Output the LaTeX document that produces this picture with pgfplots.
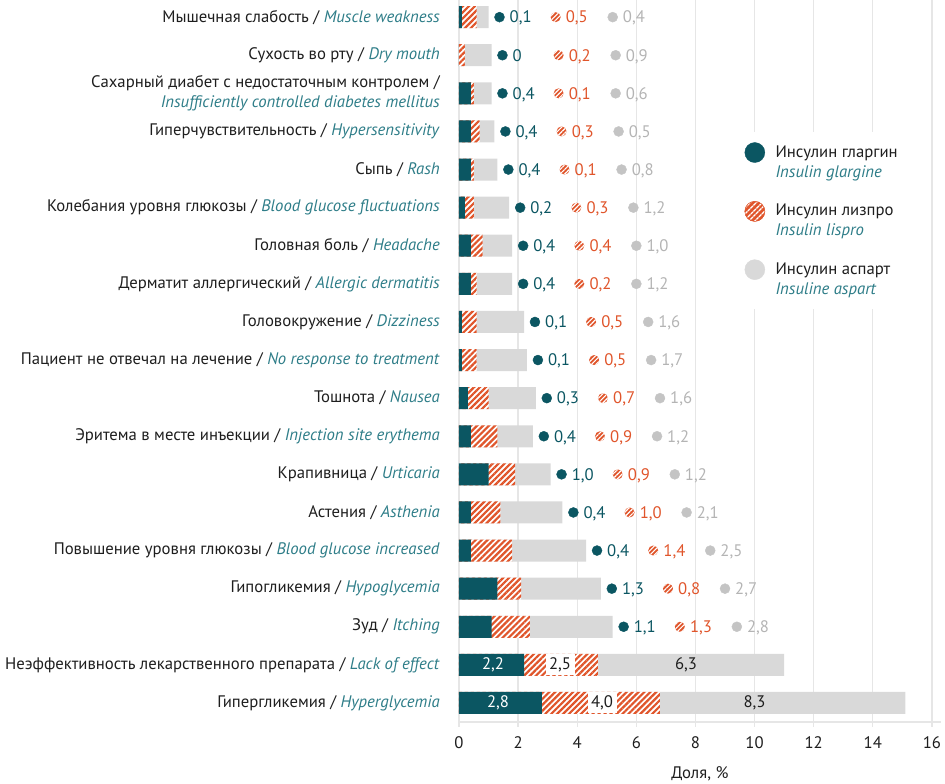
\documentclass[border=0pt]{standalone}
\usepackage{fontspec}
\setmainfont{PT Sans}
\usepackage{pgfplots}
\pgfplotsset{compat=1.18}
\usepackage{pgfplotstable}
\usetikzlibrary{patterns.meta}
\definecolor{cGl}{HTML}{0B5662}
\definecolor{cLi}{HTML}{E0552B}
\definecolor{cAs}{HTML}{D9D9D9}
\definecolor{cAsD}{HTML}{C4C4C4}
\definecolor{cAsT}{HTML}{B4B4B4}
\definecolor{cEn}{HTML}{2E7D88}
\definecolor{cGrid}{HTML}{E6E6E6}
\definecolor{cTxt}{HTML}{1E1E1E}
\newcommand{\en}[1]{\textcolor{cEn}{\textit{#1}}}
\pgfplotstableread{
idx a b c la lb lc
0 0.1 0.5 0.4 0,1 0,5 0,4
1 0 0.2 0.9 0 0,2 0,9
2 0.4 0.1 0.6 0,4 0,1 0,6
3 0.4 0.3 0.5 0,4 0,3 0,5
4 0.4 0.1 0.8 0,4 0,1 0,8
5 0.2 0.3 1.2 0,2 0,3 1,2
6 0.4 0.4 1.0 0,4 0,4 1,0
7 0.4 0.2 1.2 0,4 0,2 1,2
8 0.1 0.5 1.6 0,1 0,5 1,6
9 0.1 0.5 1.7 0,1 0,5 1,7
10 0.3 0.7 1.6 0,3 0,7 1,6
11 0.4 0.9 1.2 0,4 0,9 1,2
12 1.0 0.9 1.2 1,0 0,9 1,2
13 0.4 1.0 2.1 0,4 1,0 2,1
14 0.4 1.4 2.5 0,4 1,4 2,5
15 1.3 0.8 2.7 1,3 0,8 2,7
16 1.1 1.3 2.8 1,1 1,3 2,8
17 2.2 2.5 6.3 2,2 2,5 6,3
18 2.8 4.0 8.3 2,8 4,0 8,3
}\data
\pgfplotstableread{
y xa xb xc la lb lc
17 1.15 3.42 7.68 2,2 2,5 6,3
18 1.32 4.84 10.0 2,8 4,0 8,3
}\inside
\begin{document}
\fontsize{16.7}{20}\selectfont
\color{cTxt}%
\begin{tikzpicture}
\begin{axis}[
  at={(459pt,62pt)}, anchor=south west,
  scale only axis, width=481.8pt, height=722pt,
  xmin=0, xmax=16.3, ymin=-0.45, ymax=18.5, y dir=reverse,
  axis x line*=bottom, axis y line*=left,
  y axis line style={draw=none},
  x axis line style={draw=cGrid, line width=1.3pt},
  tick align=outside, major tick length=5pt,
  xtick style={draw=cGrid, line width=1.3pt},
  ytick style={draw=none},
  xmajorgrids, grid style={cGrid, line width=1.3pt},
  xtick={0,2,...,16},
  ytick={0,...,18},
  /pgf/number format/assume math mode=true,
  xticklabel style={text=cTxt, yshift=-4pt},
  yticklabel style={align=right, anchor=east, inner sep=0pt, xshift=-14pt, text=cTxt},
  xlabel={Доля, \%},
  xlabel style={text=cTxt, yshift=-6pt},
  yticklabels={
    Мышечная слабость / \en{Muscle weakness},
    Сухость во рту / \en{Dry mouth},
    {Сахарный диабет с недостаточным контролем /\\\en{Insufficiently controlled diabetes mellitus}},
    Гиперчувствительность / \en{Hypersensitivity},
    Сыпь / \en{Rash},
    Колебания уровня глюкозы / \en{Blood glucose fluctuations},
    Головная боль / \en{Headache},
    Дерматит аллергический / \en{Allergic dermatitis},
    Головокружение / \en{Dizziness},
    Пациент не отвечал на лечение / \en{No response to treatment},
    Тошнота / \en{Nausea},
    Эритема в месте инъекции / \en{Injection site erythema},
    Крапивница / \en{Urticaria},
    Астения / \en{Asthenia},
    Повышение уровня глюкозы / \en{Blood glucose increased},
    Гипогликемия / \en{Hypoglycemia},
    Зуд / \en{Itching},
    Неэффективность лекарственного препарата / \en{Lack of effect},
    Гипергликемия / \en{Hyperglycemia}
  },
  legend cell align=left,
  legend style={at={(0.583,0.817)}, anchor=north west, fill=white, draw=none,
    inner xsep=4pt, inner ysep=10pt, row sep=19pt, column sep=8pt,
    cells={align=left}, text=cTxt},
]
% bars (overlaid, starting at 0)
\addplot[xbar, bar width=22pt, bar shift=0pt, fill=cAs, draw=none, forget plot]
  table[x expr=\thisrow{a}+\thisrow{b}+\thisrow{c}, y=idx]{\data};
\addplot[xbar, bar width=22pt, bar shift=0pt, draw=none, forget plot,
  preaction={fill=white}, pattern={Lines[angle=45,distance=4.2pt,line width=2.2pt]}, pattern color=cLi]
  table[x expr=\thisrow{a}+\thisrow{b}, y=idx]{\data};
\addplot[xbar, bar width=22pt, bar shift=0pt, fill=cGl, draw=none, forget plot]
  table[x=a, y=idx]{\data};
% outside labels: glargine
\addplot[only marks, mark=*, mark size=5pt, color=cGl, forget plot,
  skip coords between index={17}{19},
  point meta=explicit symbolic, nodes near coords,
  nodes near coords style={anchor=west, inner sep=0pt, xshift=10pt, text=cGl, text height=1.4ex, text depth=0pt}]
  table[x expr=\thisrow{a}+\thisrow{b}+\thisrow{c}+0.37, y=idx, meta=la]{\data};
% lispro: hatched dot
\addplot[draw=none, mark=none, forget plot,
  skip coords between index={17}{19},
  point meta=explicit symbolic, nodes near coords={},
  nodes near coords style={anchor=center, circle, inner sep=0pt, minimum size=10pt, fill=cLi,
    postaction={pattern={Lines[angle=45,distance=3.2pt,line width=1.1pt]}, pattern color=white}}]
  table[x expr=\thisrow{a}+\thisrow{b}+\thisrow{c}+2.27, y=idx, meta=lb]{\data};
% lispro: text
\addplot[draw=none, mark=none, forget plot,
  skip coords between index={17}{19},
  point meta=explicit symbolic, nodes near coords,
  nodes near coords style={anchor=west, inner sep=0pt, xshift=10pt, text=cLi, text height=1.4ex, text depth=0pt}]
  table[x expr=\thisrow{a}+\thisrow{b}+\thisrow{c}+2.27, y=idx, meta=lb]{\data};
% aspart
\addplot[only marks, mark=*, mark size=5pt, color=cAsD, forget plot,
  skip coords between index={17}{19},
  point meta=explicit symbolic, nodes near coords,
  nodes near coords style={anchor=west, inner sep=0pt, xshift=10pt, text=cAsT, text height=1.4ex, text depth=0pt}]
  table[x expr=\thisrow{a}+\thisrow{b}+\thisrow{c}+4.2, y=idx, meta=lc]{\data};
% inside labels
\addplot[draw=none, mark=none, forget plot, point meta=explicit symbolic, nodes near coords,
  nodes near coords style={anchor=center, text=white, inner sep=0pt}]
  table[x=xa, y=y, meta=la]{\inside};
\addplot[draw=none, mark=none, forget plot, point meta=explicit symbolic, nodes near coords,
  nodes near coords style={anchor=center, text=cTxt, fill=white, inner xsep=3.5pt, inner ysep=0pt, minimum height=21pt}]
  table[x=xb, y=y, meta=lb]{\inside};
\addplot[draw=none, mark=none, forget plot, point meta=explicit symbolic, nodes near coords,
  nodes near coords style={anchor=center, text=cTxt, inner sep=0pt}]
  table[x=xc, y=y, meta=lc]{\inside};
% legend
\addlegendimage{legend image code/.code={\fill[cGl] (10pt,10pt) circle[radius=10pt];}}
\addlegendentry{Инсулин гларгин\\\en{Insulin glargine}}
\addlegendimage{legend image code/.code={\fill[cLi, postaction={pattern={Lines[angle=45,distance=4pt,line width=1.5pt]}, pattern color=white}] (10pt,10pt) circle[radius=10pt];}}
\addlegendentry{Инсулин лизпро\\\en{Insulin lispro}}
\addlegendimage{legend image code/.code={\fill[cAs] (10pt,10pt) circle[radius=10pt];}}
\addlegendentry{Инсулин аспарт\\\en{Insuline aspart}}
\end{axis}
\pgfresetboundingbox
\path[use as bounding box] (0,0) rectangle (945pt,784pt);
\end{tikzpicture}
\end{document}
